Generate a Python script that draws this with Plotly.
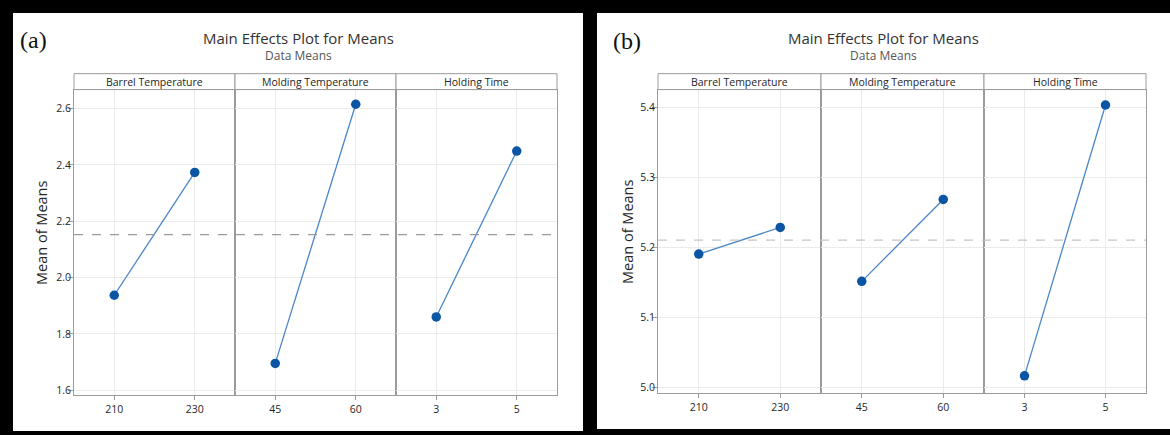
import plotly.graph_objects as go

W, H = 1170, 435

# ---------------- data ----------------
factors = ["Barrel Temperature", "Molding Temperature", "Holding Time"]
levels = [["210", "230"], ["45", "60"], ["3", "5"]]

means_a = [[1.937, 2.373], [1.695, 2.615], [1.860, 2.449]]
means_b = [[5.191, 5.229], [5.152, 5.269], [5.017, 5.404]]
grand_mean_a = 2.152
grand_mean_b = 5.211

yticks_a = [1.6, 1.8, 2.0, 2.2, 2.4, 2.6]
yticks_b = [5.0, 5.1, 5.2, 5.3, 5.4]

panel_labels = ["(a)", "(b)"]
title_text = "Main Effects Plot for Means"
subtitle_text = "Data Means"
ytitle_text = "Mean of Means"

# ---------------- layout geometry (pixels) ----------------
panels = [
    dict(white=(13, 583, 13, 433), facets=[(74, 235), (235, 396), (396, 557)],
         strip=(74, 90), plot=(90, 397), yrange=(1.5823, 2.6671), yticks=yticks_a,
         means=means_a, gm=grand_mean_a, dash="#9a9a9a",
         label_xy=(33, 40), ytitle_x=42, ytitle_y=234),
    dict(white=(597, 1170, 13, 431), facets=[(658, 821), (821, 984), (984, 1146)],
         strip=(74, 90), plot=(90, 395), yrange=(4.9922, 5.4260), yticks=yticks_b,
         means=means_b, gm=grand_mean_b, dash="#c4c4c4",
         label_xy=(627, 41), ytitle_x=628, ytitle_y=233),
]

px = lambda x: x / W
py = lambda y: 1 - y / H

FONT = "Open Sans"
AXIS_LINE = "#9b9b9b"
GRID = "#ebebeb"
TXT = "#262626"
MARKER = "#0b56a4"
LINE = "#4a86c8"

fig = go.Figure()
shapes, annotations = [], []
layout_axes = {}

for p, P in enumerate(panels):
    wx0, wx1, wy0, wy1 = P["white"]
    shapes.append(dict(type="rect", xref="paper", yref="paper", layer="below",
                       x0=px(wx0), x1=px(wx1), y0=py(wy1), y1=py(wy0),
                       fillcolor="white", line=dict(width=0)))
    for f in range(3):
        idx = p * 3 + f + 1
        xs = "" if idx == 1 else str(idx)
        fx0, fx1 = P["facets"][f]
        fig.add_trace(go.Scatter(
            x=levels[f], y=P["means"][f], mode="lines+markers",
            xaxis="x" + xs, yaxis="y" + xs, showlegend=False,
            line=dict(color=LINE, width=1.3),
            marker=dict(color=MARKER, size=9.5),
            hoverinfo="x+y"))
        layout_axes["xaxis" + xs] = dict(
            domain=[px(fx0), px(fx1)], anchor="y" + xs, type="category",
            range=[-0.5, 1.5], showgrid=True, gridcolor=GRID, gridwidth=1,
            showline=True, linecolor=AXIS_LINE, linewidth=1, mirror=True,
            ticks="outside", ticklen=4, tickcolor=AXIS_LINE,
            tickfont=dict(family=FONT, size=10.5, color=TXT), zeroline=False,
            fixedrange=True)
        layout_axes["yaxis" + xs] = dict(
            domain=[py(P["plot"][1]), py(P["plot"][0])], anchor="x" + xs,
            range=list(P["yrange"]), tickvals=P["yticks"], tickformat=".1f",
            showticklabels=(f == 0), ticks=("outside" if f == 0 else ""),
            ticklen=5, tickcolor=AXIS_LINE, ticklabelstandoff=-5,
            showgrid=True, gridcolor=GRID, gridwidth=1, zeroline=False,
            showline=True, linecolor=AXIS_LINE, linewidth=1, mirror=True,
            tickfont=dict(family=FONT, size=10.5, color=TXT), fixedrange=True)
        # strip header
        sy0, sy1 = P["strip"]
        shapes.append(dict(type="rect", xref="paper", yref="paper",
                           x0=px(fx0), x1=px(fx1), y0=py(sy1), y1=py(sy0),
                           fillcolor="white", line=dict(color=AXIS_LINE, width=1)))
        annotations.append(dict(text=factors[f], xref="paper", yref="paper",
                                x=px((fx0 + fx1) / 2), y=py((sy0 + sy1) / 2),
                                showarrow=False, xanchor="center", yanchor="middle",
                                font=dict(family=FONT, size=10.5, color=TXT)))
    # grand mean line
    yref = "y" if p == 0 else "y4"
    shapes.append(dict(type="line", xref="paper", yref=yref,
                       x0=px(P["facets"][0][0]), x1=px(P["facets"][2][1]),
                       y0=P["gm"], y1=P["gm"],
                       line=dict(color=P["dash"], width=1.3, dash="dash")))
    cx = (wx0 + wx1) / 2
    annotations.append(dict(text=title_text, xref="paper", yref="paper",
                            x=px(cx), y=py(38), showarrow=False,
                            xanchor="center", yanchor="middle",
                            font=dict(family=FONT, size=15, color="#333333")))
    annotations.append(dict(text=subtitle_text, xref="paper", yref="paper",
                            x=px(cx), y=py(56), showarrow=False,
                            xanchor="center", yanchor="middle",
                            font=dict(family=FONT, size=12, color="#555555")))
    lx, ly = P["label_xy"]
    annotations.append(dict(text=panel_labels[p], xref="paper", yref="paper",
                            x=px(lx), y=py(ly), showarrow=False,
                            xanchor="center", yanchor="middle",
                            font=dict(family="Liberation Serif", size=24, color="#111111")))
    annotations.append(dict(text=ytitle_text, xref="paper", yref="paper",
                            x=px(P["ytitle_x"]), y=py(P["ytitle_y"]), showarrow=False,
                            textangle=-90, xanchor="center", yanchor="middle",
                            font=dict(family=FONT, size=14.5, color=TXT)))

fig.update_layout(
    width=W, height=H, margin=dict(l=0, r=0, t=0, b=0),
    paper_bgcolor="black", plot_bgcolor="white",
    shapes=shapes, annotations=annotations, **layout_axes)

fig.write_html("out.html", config={"displayModeBar": False},
               post_script="document.body.style.margin='0';")
